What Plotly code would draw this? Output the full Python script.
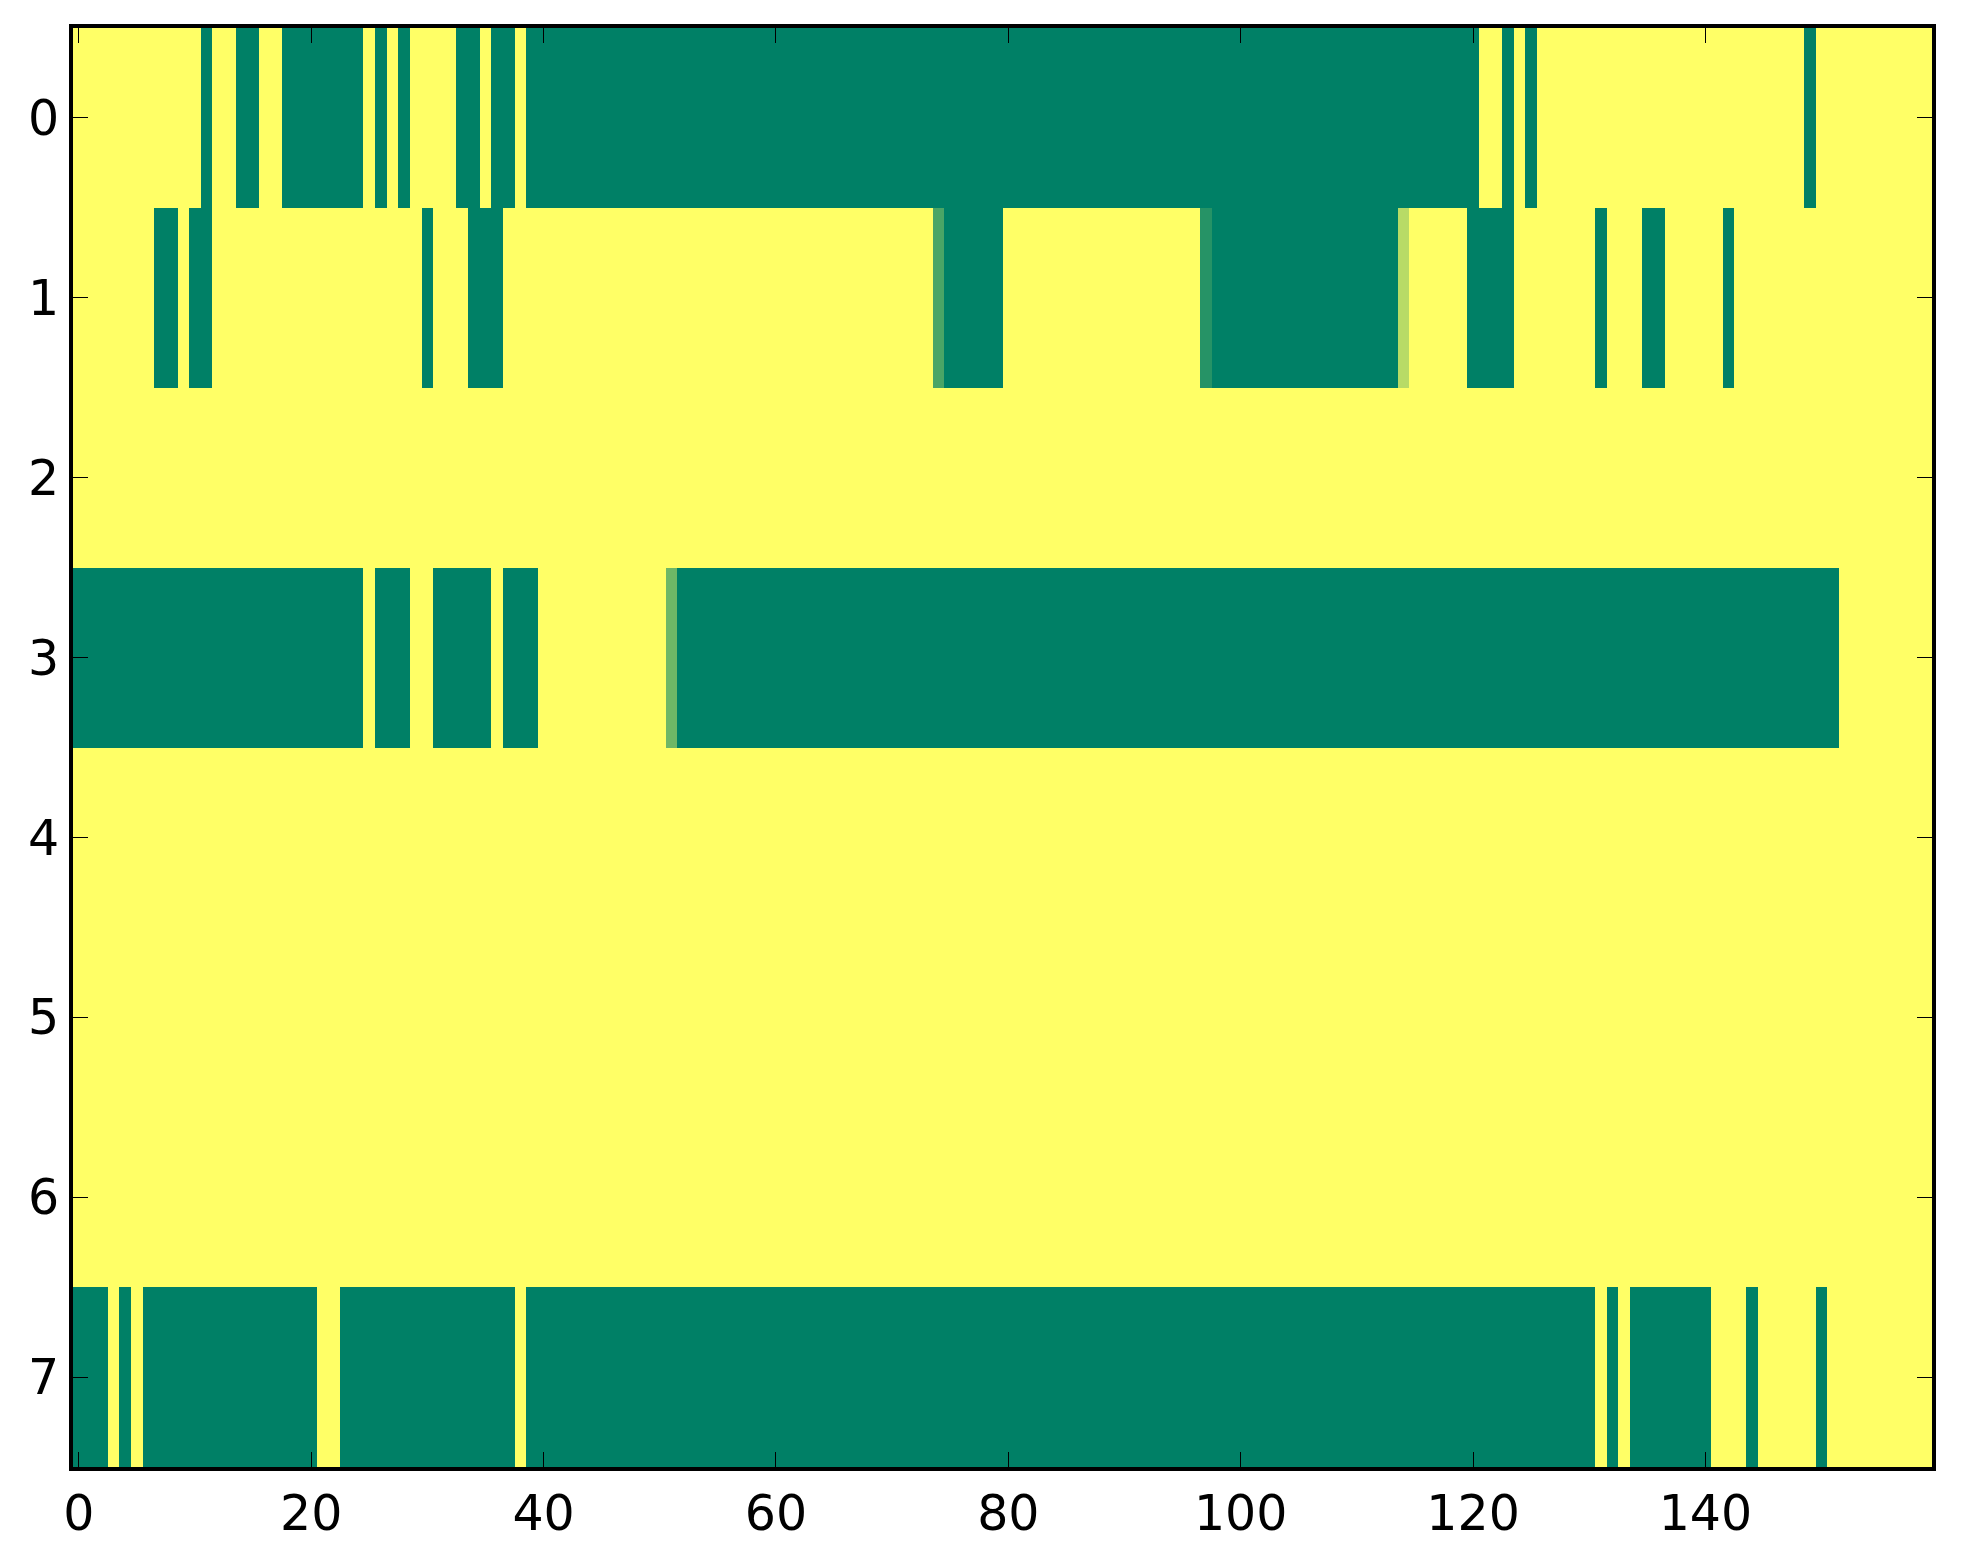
import plotly.graph_objects as go

# cell values per row (0 = green, 1 = yellow), 160 columns each
row0 = [1, 1, 1, 1, 1, 1, 1, 1, 1, 1, 1, 0, 1, 1, 0, 0, 1, 1, 0, 0,
        0, 0, 0, 0, 0, 1, 0, 1, 0, 1, 1, 1, 1, 0, 0, 1, 0, 0, 1, 0,
        0, 0, 0, 0, 0, 0, 0, 0, 0, 0, 0, 0, 0, 0, 0, 0, 0, 0, 0, 0,
        0, 0, 0, 0, 0, 0, 0, 0, 0, 0, 0, 0, 0, 0, 0, 0, 0, 0, 0, 0,
        0, 0, 0, 0, 0, 0, 0, 0, 0, 0, 0, 0, 0, 0, 0, 0, 0, 0, 0, 0,
        0, 0, 0, 0, 0, 0, 0, 0, 0, 0, 0, 0, 0, 0, 0, 0, 0, 0, 0, 0,
        0, 1, 1, 0, 1, 0, 1, 1, 1, 1, 1, 1, 1, 1, 1, 1, 1, 1, 1, 1,
        1, 1, 1, 1, 1, 1, 1, 1, 1, 0, 1, 1, 1, 1, 1, 1, 1, 1, 1, 1]

row1 = [1, 1, 1, 1, 1, 1, 1, 0, 0, 1, 0, 0, 1, 1, 1, 1, 1, 1, 1, 1,
        1, 1, 1, 1, 1, 1, 1, 1, 1, 1, 0, 1, 1, 1, 0, 0, 0, 1, 1, 1,
        1, 1, 1, 1, 1, 1, 1, 1, 1, 1, 1, 1, 1, 1, 1, 1, 1, 1, 1, 1,
        1, 1, 1, 1, 1, 1, 1, 1, 1, 1, 1, 1, 1, 1, 0.29, 0, 0, 0, 0, 0,
        1, 1, 1, 1, 1, 1, 1, 1, 1, 1, 1, 1, 1, 1, 1, 1, 1, 0.15, 0, 0,
        0, 0, 0, 0, 0, 0, 0, 0, 0, 0, 0, 0, 0, 0, 0.72, 1, 1, 1, 1, 1,
        0, 0, 0, 0, 1, 1, 1, 1, 1, 1, 1, 0, 1, 1, 1, 0, 0, 1, 1, 1,
        1, 1, 0, 1, 1, 1, 1, 1, 1, 1, 1, 1, 1, 1, 1, 1, 1, 1, 1, 1]

row2 = [1, 1, 1, 1, 1, 1, 1, 1, 1, 1, 1, 1, 1, 1, 1, 1, 1, 1, 1, 1,
        1, 1, 1, 1, 1, 1, 1, 1, 1, 1, 1, 1, 1, 1, 1, 1, 1, 1, 1, 1,
        1, 1, 1, 1, 1, 1, 1, 1, 1, 1, 1, 1, 1, 1, 1, 1, 1, 1, 1, 1,
        1, 1, 1, 1, 1, 1, 1, 1, 1, 1, 1, 1, 1, 1, 1, 1, 1, 1, 1, 1,
        1, 1, 1, 1, 1, 1, 1, 1, 1, 1, 1, 1, 1, 1, 1, 1, 1, 1, 1, 1,
        1, 1, 1, 1, 1, 1, 1, 1, 1, 1, 1, 1, 1, 1, 1, 1, 1, 1, 1, 1,
        1, 1, 1, 1, 1, 1, 1, 1, 1, 1, 1, 1, 1, 1, 1, 1, 1, 1, 1, 1,
        1, 1, 1, 1, 1, 1, 1, 1, 1, 1, 1, 1, 1, 1, 1, 1, 1, 1, 1, 1]

row3 = [0, 0, 0, 0, 0, 0, 0, 0, 0, 0, 0, 0, 0, 0, 0, 0, 0, 0, 0, 0,
        0, 0, 0, 0, 0, 1, 0, 0, 0, 1, 1, 0, 0, 0, 0, 0, 1, 0, 0, 0,
        1, 1, 1, 1, 1, 1, 1, 1, 1, 1, 1, 0.43, 0, 0, 0, 0, 0, 0, 0, 0,
        0, 0, 0, 0, 0, 0, 0, 0, 0, 0, 0, 0, 0, 0, 0, 0, 0, 0, 0, 0,
        0, 0, 0, 0, 0, 0, 0, 0, 0, 0, 0, 0, 0, 0, 0, 0, 0, 0, 0, 0,
        0, 0, 0, 0, 0, 0, 0, 0, 0, 0, 0, 0, 0, 0, 0, 0, 0, 0, 0, 0,
        0, 0, 0, 0, 0, 0, 0, 0, 0, 0, 0, 0, 0, 0, 0, 0, 0, 0, 0, 0,
        0, 0, 0, 0, 0, 0, 0, 0, 0, 0, 0, 0, 1, 1, 1, 1, 1, 1, 1, 1]

row4 = list(row2)
row5 = list(row2)
row6 = list(row2)

row7 = [0, 0, 0, 1, 0, 1, 0, 0, 0, 0, 0, 0, 0, 0, 0, 0, 0, 0, 0, 0,
        0, 1, 1, 0, 0, 0, 0, 0, 0, 0, 0, 0, 0, 0, 0, 0, 0, 0, 1, 0,
        0, 0, 0, 0, 0, 0, 0, 0, 0, 0, 0, 0, 0, 0, 0, 0, 0, 0, 0, 0,
        0, 0, 0, 0, 0, 0, 0, 0, 0, 0, 0, 0, 0, 0, 0, 0, 0, 0, 0, 0,
        0, 0, 0, 0, 0, 0, 0, 0, 0, 0, 0, 0, 0, 0, 0, 0, 0, 0, 0, 0,
        0, 0, 0, 0, 0, 0, 0, 0, 0, 0, 0, 0, 0, 0, 0, 0, 0, 0, 0, 0,
        0, 0, 0, 0, 0, 0, 0, 0, 0, 0, 0, 1, 0, 1, 0, 0, 0, 0, 0, 0,
        0, 1, 1, 1, 0, 1, 1, 1, 1, 1, 0, 1, 1, 1, 1, 1, 1, 1, 1, 1]

rows = [row0, row1, row2, row3, row4, row5, row6, row7]
x_ticks = [0, 20, 40, 60, 80, 100, 120, 140]
y_ticks = [0, 1, 2, 3, 4, 5, 6, 7]

# matplotlib "summer" map is linear between these two ends
summer = [[0.0, "rgb(0,128,102)"], [1.0, "rgb(255,255,102)"]]

fig = go.Figure()
fig.add_trace(go.Heatmap(z=rows, colorscale=summer, zmin=0, zmax=1,
                         showscale=False, hoverinfo="skip"))

axis_style = dict(showgrid=False, zeroline=False, showline=True, linewidth=4,
                  linecolor="black", mirror="ticks", ticks="inside", ticklen=15,
                  tickwidth=1.3, tickcolor="black",
                  tickfont=dict(family="DejaVu Sans", size=49, color="black"))

# page body adds an 8px offset, so the figure is a bit smaller than the window
fig.update_layout(width=1955, height=1556,
                  margin=dict(l=65, r=31, t=20, b=97),
                  paper_bgcolor="white", plot_bgcolor="white",
                  xaxis=dict(range=[-0.5, 159.5], tickvals=x_ticks, **axis_style),
                  yaxis=dict(range=[7.5, -0.5], tickvals=y_ticks, **axis_style))

fig.write_html("out.html")
